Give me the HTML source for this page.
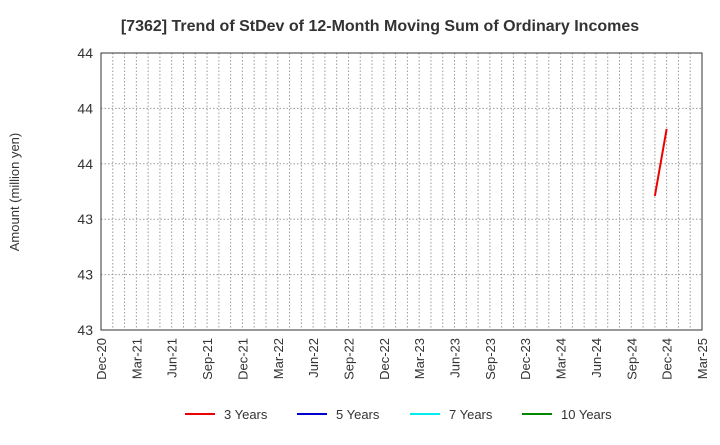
<!DOCTYPE html>
<html><head><meta charset="utf-8"><style>
body{margin:0;background:#fff;font-family:"Liberation Sans",Arial,sans-serif}
svg text{font-family:"Liberation Sans",Arial,sans-serif}
</style></head><body>
<svg id="c" width="720" height="440">
<text x="380" y="31" text-anchor="middle" font-size="16" font-weight="bold" fill="#333">[7362]  Trend of StDev of 12-Month Moving Sum of Ordinary Incomes</text>
<text transform="translate(19,192) rotate(-90)" text-anchor="middle" font-size="13" fill="#333">Amount (million yen)</text>
<g id="grid"></g><g id="axes"></g><g id="series"></g>
<g font-size="13" fill="#333">
<g><line x1="185" y1="414" x2="215" y2="414" stroke="#e00" stroke-width="2"/><text x="224" y="419">3 Years</text></g>
<g><line x1="297" y1="414" x2="327" y2="414" stroke="#00c" stroke-width="2"/><text x="336" y="419">5 Years</text></g>
<g><line x1="410" y1="414" x2="440" y2="414" stroke="#0ee" stroke-width="2"/><text x="449" y="419">7 Years</text></g>
<g><line x1="522" y1="414" x2="552" y2="414" stroke="#080" stroke-width="2"/><text x="561" y="419">10 Years</text></g>
</g>
</svg>
<script>
const xLabels=["Dec-20","Mar-21","Jun-21","Sep-21","Dec-21","Mar-22","Jun-22","Sep-22","Dec-22","Mar-23","Jun-23","Sep-23","Dec-23","Mar-24","Jun-24","Sep-24","Dec-24","Mar-25"];
const yTicks=[43.2,43.3,43.4,43.5,43.6,43.7];
const s3Months=[47,48];
const s3Values=[43.442,43.563];
const NS="http://www.w3.org/2000/svg";
const L=101,R=702,T=53,B=330,NM=51;
const xs=m=>L+(R-L)*m/NM;
const ys=v=>B-(v-yTicks[0])/(yTicks[yTicks.length-1]-yTicks[0])*(B-T);
function mk(tag,attrs,parent,txt){const e=document.createElementNS(NS,tag);for(const k in attrs)e.setAttribute(k,attrs[k]);if(txt!==undefined)e.textContent=txt;document.getElementById(parent).appendChild(e);return e;}
for(let m=1;m<NM;m++){const e=mk('line',{x1:xs(m),x2:xs(m),y1:T,y2:B,stroke:'#999','stroke-dasharray':'1.5,2','stroke-width':1},'grid');

}
yTicks.forEach((v,i)=>{const y=ys(v);
if(i>0&&i<yTicks.length-1){const g=mk('line',{x1:L,x2:R,y1:y,y2:y,stroke:'#999','stroke-dasharray':'1.5,2'},'grid');

}
const t=mk('text',{x:L-8,y:y+5,'text-anchor':'end','font-size':14,fill:'#333'},'axes',String(Math.round(v)));

});
xLabels.forEach((lab,i)=>{const x=xs(i*3);
const t=mk('text',{transform:`translate(${x+5},${B+8}) rotate(-90)`,'text-anchor':'end','font-size':13,fill:'#333'},'axes',lab);

});
const fr=mk('rect',{x:L,y:T,width:R-L,height:B-T,fill:'none',stroke:'#333','stroke-width':1},'axes');


const pts=s3Months.map((m,i)=>xs(m)+','+ys(s3Values[i])).join(' ');
const pl=mk('polyline',{points:pts,fill:'none',stroke:'#e00','stroke-width':2},'series');


</script>
</body></html>
